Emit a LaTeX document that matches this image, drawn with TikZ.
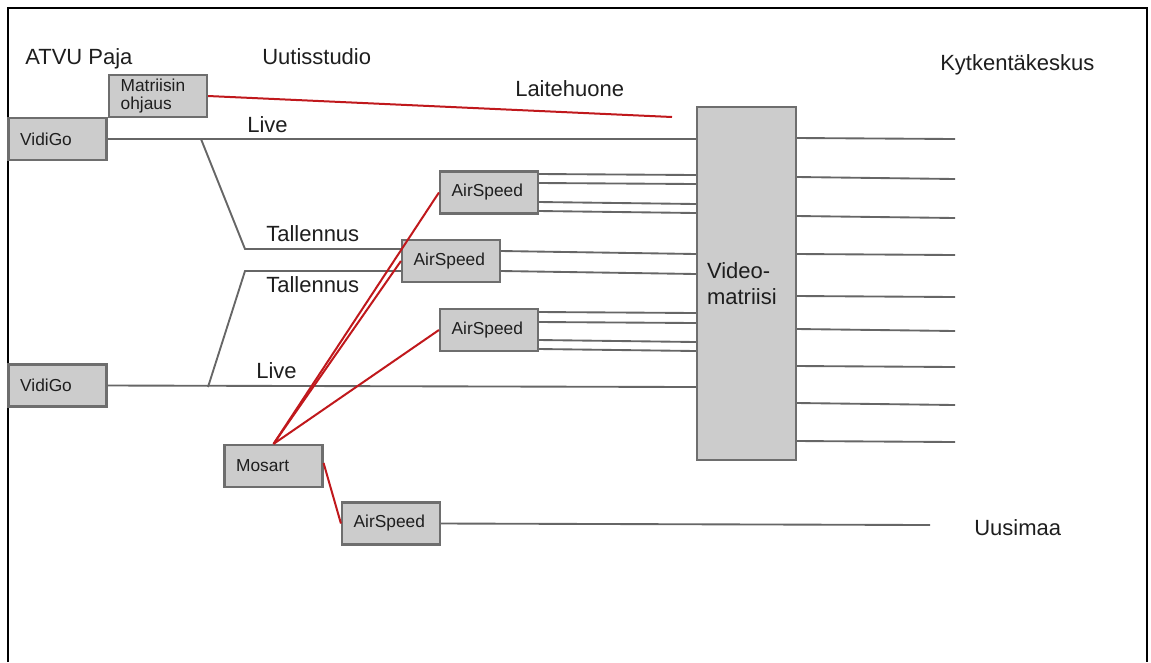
\documentclass[tikz,border=0pt]{standalone}
\usepackage{fontspec}
\setmainfont{Liberation Sans}
\definecolor{boxfill}{HTML}{CCCCCC}
\definecolor{boxline}{HTML}{6E6E6E}
\definecolor{wirec}{HTML}{666666}
\definecolor{redc}{HTML}{C0181C}
\definecolor{txt}{HTML}{1E1E1E}
\begin{document}
\begin{tikzpicture}[x=0.75pt,y=-0.75pt,
  box/.style={rectangle, draw=boxline, fill=boxfill, line width=1.6pt,
    inner xsep=8.75pt, inner ysep=0pt, text width=56pt, align=left,
    minimum height=31.5pt, font=\fontsize{13}{13}\selectfont, text=txt},
  wire/.style={draw=wirec, line width=1.4pt},
  ctrl/.style={draw=redc, line width=1.5pt},
  lbl/.style={anchor=base west, inner sep=0pt,
    font=\fontsize{16.5}{20}\selectfont, text=txt}]

\useasboundingbox (0,0) rectangle (1151,662);

% Frame
\draw[line width=1.2pt] (8,662) -- (8,8) -- (1147,8) -- (1147,662);

% Room titles
\node[lbl] (paja) at (25,64) {ATVU Paja};
\node[lbl] (studio) at (262,64) {Uutisstudio};
\node[lbl] (laite) at (515,96) {Laitehuone};
\node[lbl] (kytk) at (940,70) {Kytkentäkeskus};

% Devices
\node[box] (ohjaus) at (158,96) {Matriisin\\ohjaus};
\node[box] (vidigo1) at (57.5,139) {VidiGo};
\node[box] (vidigo2) at (57.5,385.5) {VidiGo};
\node[box] (air1) at (489,192.5) {AirSpeed};
\node[box] (air2) at (451,261) {AirSpeed};
\node[box] (air3) at (489,330) {AirSpeed};
\node[box] (air4) at (391,523.5) {AirSpeed};
\node[box] (mosart) at (273.5,466) {Mosart};
\node[box, text width=59.25pt, inner xsep=7.5pt, minimum height=264.75pt,
  font=\fontsize{16.5}{20}\selectfont] (matriisi) at (746.5,283.5) {Video-\\matriisi};

% Free ends
\coordinate (ohjausend) at (672,117);
\coordinate (live1split) at (201,139);
\coordinate (live2split) at (208,387);
\coordinate (tal1bend) at (245,249);
\coordinate (tal2bend) at (245,271);
\coordinate (uusiend) at (930,525);

% Live and Tallennus feeds
\draw[wire] (vidigo1.east) -- (matriisi.west |- 0,139);
\draw[wire] (vidigo2.east) -- (matriisi.west |- 0,387);
\draw[wire] (live1split) -- (tal1bend) -- (air2.west |- 0,249);
\draw[wire] (live2split) -- (tal2bend) -- (air2.west |- 0,271);
\node[lbl] (live1) at (247,132) {Live};
\node[lbl] (live2) at (256,378) {Live};
\node[lbl] (tal1) at (266,241) {Tallennus};
\node[lbl] (tal2) at (266,292) {Tallennus};

% AirSpeed outputs to the matrix
\foreach \a/\b in {174/175, 183/184, 202/204, 211/213}
  \draw[wire] (air1.east |- 0,\a) -- (matriisi.west |- 0,\b);
\foreach \a/\b in {251/254, 271/274}
  \draw[wire] (air2.east |- 0,\a) -- (matriisi.west |- 0,\b);
\foreach \a/\b in {312/313, 322/323, 340/342, 349/351}
  \draw[wire] (air3.east |- 0,\a) -- (matriisi.west |- 0,\b);

% Matrix outputs
\foreach \a/\b [count=\i] in {138/139, 177/179, 216/218, 254/255, 296/297,
    329/331, 366/367, 403/405, 441/442} {
  \coordinate (kytk-\i) at (955,\b);
  \draw[wire] (matriisi.east |- 0,\a) -- (kytk-\i);
}

% Uusimaa
\draw[wire] (air4.east) -- (uusiend);
\node[lbl] (uusimaa) at (974,535) {Uusimaa};

% Control lines
\draw[ctrl] (ohjaus.east) -- (ohjausend);
\draw[ctrl] (mosart.north) -- (air1.west);
\draw[ctrl] (mosart.north) -- (air2.west);
\draw[ctrl] (mosart.north) -- (air3.west);
\draw[ctrl] (mosart.east |- 0,463) -- (air4.west);

\end{tikzpicture}
\end{document}
